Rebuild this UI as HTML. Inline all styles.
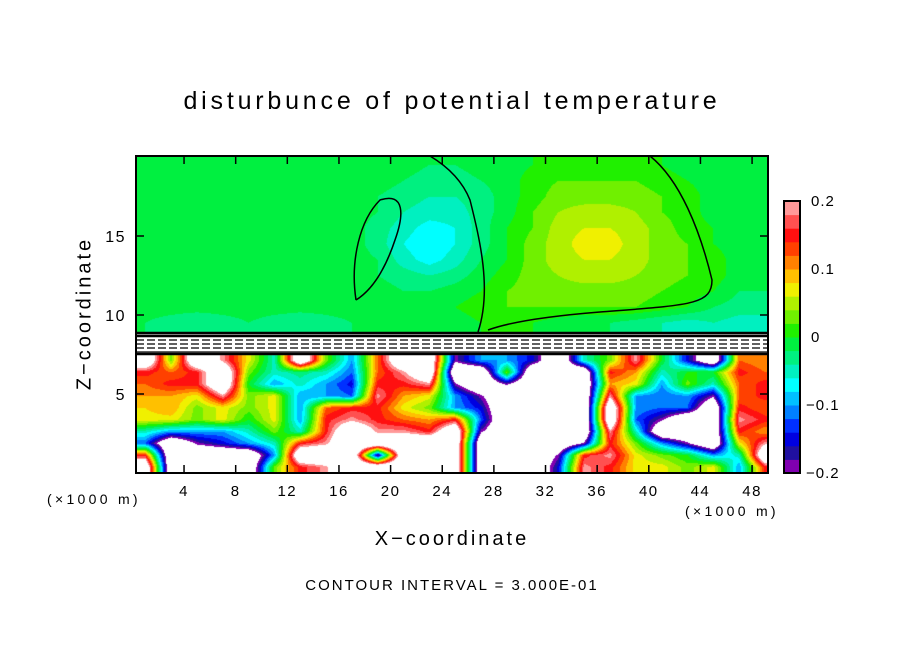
<!DOCTYPE html>
<html><head><meta charset="utf-8">
<style>
body{margin:0;background:#fff;width:904px;height:654px;overflow:hidden;position:relative;font-family:"Liberation Sans",sans-serif;}
.t{position:absolute;color:#000;white-space:nowrap;}
</style></head>
<body>
<div class="t" style="left:0;width:904px;text-align:center;top:87px;font-size:25px;letter-spacing:3.8px;">disturbunce of potential temperature</div>
<canvas id="cv" width="904" height="654" style="position:absolute;left:0;top:0"></canvas>
<svg id="ov" width="904" height="654" style="position:absolute;left:0;top:0"></svg>
<div class="t" style="left:47px;top:491px;font-size:14px;letter-spacing:3.3px;">(×1000 m)</div>
<div class="t" style="left:685px;top:503px;font-size:14px;letter-spacing:3.3px;">(×1000 m)</div>
<div class="t" style="left:0;width:904px;text-align:center;top:528px;font-size:20px;letter-spacing:3px;">X−coordinate</div>
<div class="t" style="left:-15px;top:302px;width:200px;text-align:center;font-size:20px;letter-spacing:3px;transform:rotate(-90deg);">Z−coordinate</div>
<div class="t" style="left:0;width:904px;text-align:center;top:577px;font-size:15px;letter-spacing:2px;">CONTOUR INTERVAL = 3.000E-01</div>
<script>
const colors=["#8000b0","#2010a0","#0000e0","#0030ff","#0080ff","#00c0ff","#00ffff","#00f0c0","#00f080","#00f040","#20f000","#70f000","#b0f000","#f0f000","#ffc000","#ff8000","#ff4000","#ff1010","#ff5050","#ff9999"];
const xTicks=[4,8,12,16,20,24,28,32,36,40,44,48];
const zTicks=[5,10,15];
const cbTicks=[0.2,0.1,0,-0.1,-0.2];
// lower field, rows from z=7.5 down to 0 (0.75 km each), cols 2 km wide
const lowGrid=[
[0.3,0.03,0.3,0.19,0.07,-0.05,0.3,0.03,-0.1,0.12,0.3,0.3,-0.19,-0.1,-0.1,-0.15,-0.3,-0.05,0.03,0.19,0.0,-0.15,-0.3,0.12,0.1],
[0.15,0.12,0.15,0.3,0.03,-0.05,-0.03,-0.05,-0.12,0.12,0.19,0.3,-0.3,-0.3,0.03,-0.3,-0.3,-0.3,0.15,0.1,-0.05,0.0,0.0,0.15,0.12],
[0.12,0.15,0.15,0.3,0.0,-0.1,-0.05,-0.1,-0.15,0.15,0.15,0.19,-0.19,-0.3,-0.19,-0.3,-0.3,-0.3,0.1,0.07,-0.1,0.03,-0.05,0.12,0.15],
[0.1,0.1,0.07,0.19,0.03,0.07,-0.1,-0.1,-0.12,0.19,0.1,0.07,-0.1,-0.19,-0.3,-0.3,-0.3,-0.3,0.19,-0.1,-0.12,-0.1,-0.19,0.12,0.15],
[0.08,0.1,0.03,0.07,0.03,0.07,-0.1,0.12,0.15,0.15,0.07,0.03,-0.1,-0.15,-0.3,-0.3,-0.3,-0.3,0.3,-0.1,-0.12,-0.12,-0.3,0.15,0.12],
[0.07,0.07,0.03,0.07,0.0,0.07,-0.1,0.15,0.19,0.15,0.12,0.1,0.15,-0.12,-0.3,-0.3,-0.3,-0.3,0.3,-0.12,-0.19,-0.3,-0.3,0.19,0.15],
[-0.05,-0.1,-0.1,-0.1,-0.05,0.03,-0.05,0.15,0.3,0.19,0.19,0.15,0.3,-0.19,-0.3,-0.3,-0.3,-0.3,0.19,-0.05,-0.3,-0.3,-0.3,0.15,0.1],
[-0.12,-0.3,-0.19,-0.15,-0.1,-0.05,0.15,0.19,0.3,0.3,0.3,0.3,0.3,-0.3,-0.3,-0.3,-0.3,-0.19,0.15,0.03,-0.1,-0.19,-0.3,0.07,0.19],
[0.15,-0.3,-0.3,-0.3,-0.3,-0.1,0.3,0.3,0.3,-0.19,0.3,0.3,0.3,-0.3,-0.3,-0.3,-0.19,0.15,0.19,0.07,0.03,0.0,-0.1,-0.05,0.3],
[0.3,-0.3,-0.3,-0.3,-0.3,0.03,0.15,0.19,0.3,0.3,0.3,0.3,0.3,-0.3,-0.3,-0.3,-0.15,0.19,0.15,0.07,0.07,0.03,0.07,-0.1,0.15]
];
// upper field, rows from z=19.5 down to 9.5
const upGrid=[
[-.01,-.01,-.01,-.01,-.01,-.01,-.01,-.01,-.01,-.01,-.01,-.02,-.02,-.01,-.01,0,.01,.01,.01,.01,0,-.01,-.01,-.01,-.01],
[-.01,-.01,-.01,-.01,-.01,-.01,-.01,-.01,-.01,-.01,-.02,-.03,-.03,-.02,-.01,.01,.02,.02,.02,.02,.01,0,-.01,-.01,-.01],
[-.01,-.01,-.01,-.01,-.01,-.01,-.01,-.01,-.01,-.02,-.03,-.04,-.04,-.03,-.01,.01,.03,.03,.03,.03,.02,.01,-.01,-.01,-.01],
[-.01,-.01,-.01,-.01,-.01,-.01,-.01,-.01,-.01,-.02,-.04,-.05,-.05,-.03,-.01,.02,.04,.05,.05,.04,.02,.01,-.01,-.01,-.01],
[-.01,-.01,-.01,-.01,-.01,-.01,-.01,-.01,-.01,-.03,-.05,-.07,-.06,-.03,0,.02,.05,.06,.06,.05,.03,.01,0,-.01,-.01],
[-.01,-.01,-.01,-.01,-.01,-.01,-.01,-.01,-.01,-.03,-.06,-.08,-.06,-.03,0,.03,.05,.07,.07,.05,.03,.02,0,-.01,-.01],
[-.01,-.01,-.01,-.01,-.01,-.01,-.01,-.01,-.01,-.02,-.05,-.07,-.05,-.02,0,.03,.05,.06,.06,.05,.03,.02,.01,-.01,-.01],
[-.01,-.01,-.01,-.01,-.01,-.01,-.01,-.01,-.01,-.02,-.03,-.04,-.03,-.01,.01,.03,.04,.05,.05,.04,.03,.02,.01,-.01,-.01],
[-.01,-.01,-.01,-.01,-.01,-.01,-.01,-.01,-.01,-.01,-.02,-.02,-.01,0,.02,.03,.03,.03,.03,.03,.02,.01,0,-.02,-.02],
[-.01,-.01,-.01,-.01,-.01,-.01,-.01,-.01,-.01,-.01,-.02,-.01,0,.01,.02,.02,.02,.02,.02,.02,.01,0,-.02,-.03,-.03],
[-.02,-.03,-.04,-.03,-.02,-.03,-.04,-.03,-.02,-.02,-.02,-.02,-.01,0,.01,0,-.01,-.02,-.02,-.03,-.04,-.05,-.04,-.05,-.05]
];
const PL=136,PR=768,PT=156,PB=473;
const xPx=x=>132.4+12.91*x;
const pxX=p=>(p-132.4)/12.91;
const zPx=z=>473-15.8*z;
const pxZ=p=>(473-p)/15.8;
function interp(g,cx,cy){
  const R=g.length,C=g[0].length;
  cx=Math.max(0,Math.min(C-1,cx));cy=Math.max(0,Math.min(R-1,cy));
  const i=Math.min(C-2,Math.floor(cx)),j=Math.min(R-2,Math.floor(cy));
  const fx=cx-i,fy=cy-j;
  return g[j][i]*(1-fx)*(1-fy)+g[j][i+1]*fx*(1-fy)+g[j+1][i]*(1-fx)*fy+g[j+1][i+1]*fx*fy;
}
const cv=document.getElementById('cv');const ctx=cv.getContext('2d');
const img=ctx.createImageData(PR-PL,PB-PT);
function hex(h){return[parseInt(h.substr(1,2),16),parseInt(h.substr(3,2),16),parseInt(h.substr(5,2),16)];}
const rgb=colors.map(hex);
for(let py=PT;py<PB;py++){for(let px=PL;px<PR;px++){
  const x=pxX(px+0.5),z=pxZ(py+0.5);let v=null;
  if(z<7.5){v=interp(lowGrid,(x-1)/2,(7.5-z)/0.75-0.5);}
  else if(z>=8.85){v=interp(upGrid,(x-1)/2,19.5-z);}
  else v=0.5;
  let c=[255,255,255];
  if(v<=0.2&&v>=-0.2){let k=Math.max(0,Math.min(19,Math.floor((v+0.2)/0.02)));c=rgb[k];}
  const o=((py-PT)*(PR-PL)+(px-PL))*4;img.data[o]=c[0];img.data[o+1]=c[1];img.data[o+2]=c[2];img.data[o+3]=255;
}}
ctx.putImageData(img,PL,PT);
const NS='http://www.w3.org/2000/svg';const ov=document.getElementById('ov');
function mk(t,a){const e=document.createElementNS(NS,t);for(const k in a)e.setAttribute(k,a[k]);ov.appendChild(e);return e;}
[333,336,340,344,348,352,354].forEach(y=>{const l=mk('line',{x1:PL,x2:PR,y1:y,y2:y,stroke:'#000','stroke-width':(y==333||y==354||y==336)?2.5:1.2,'stroke-dasharray':(y>338&&y<350)?'8 3':'none'});

});
const paths=["M478,332 C492,290 480,240 470,200 C460,175 440,162 430,156","M650,156 C680,180 700,230 712,280 C712,305 690,305 600,312 C550,316 510,322 488,330","M356,300 C350,260 360,220 380,200 C405,192 404,215 395,240 C385,270 372,290 356,300"];
paths.forEach(d=>{const p=mk('path',{d:d,fill:'none',stroke:'#000','stroke-width':1.5});

});
const fr=mk('rect',{x:PL,y:PT,width:PR-PL,height:PB-PT,fill:'none',stroke:'#000','stroke-width':2});


xTicks.forEach(v=>{const x=xPx(v);
mk('line',{x1:x,x2:x,y1:PB,y2:PB-8,stroke:'#000','stroke-width':1.5});mk('line',{x1:x,x2:x,y1:PT,y2:PT+8,stroke:'#000','stroke-width':1.5});
const t=mk('text',{x:x,y:496,'text-anchor':'middle','font-size':15,'letter-spacing':1.5,'font-family':'Liberation Sans'});t.textContent=v;

});
zTicks.forEach(v=>{const y=zPx(v);
mk('line',{x1:PL,x2:PL+8,y1:y,y2:y,stroke:'#000','stroke-width':1.5});mk('line',{x1:PR,x2:PR-8,y1:y,y2:y,stroke:'#000','stroke-width':1.5});
const t=mk('text',{x:126,y:y+6,'text-anchor':'end','font-size':16,'letter-spacing':1.5,'font-family':'Liberation Sans'});t.textContent=v;

});
const CT=201,CB=473,CX=784,CW=16;const h=(CB-CT)/colors.length;
colors.forEach((c,i)=>{const r=mk('rect',{x:CX,y:CB-(i+1)*h,width:CW,height:h+0.5,fill:c});

});
const cf=mk('rect',{x:CX,y:CT,width:CW,height:CB-CT,fill:'none',stroke:'#000','stroke-width':2});


cbTicks.forEach(v=>{const y=CB-(v+0.2)/0.4*(CB-CT);
const t=mk('text',{x:v<0?806:811,y:y+5,'font-size':15,'letter-spacing':1,'font-family':'Liberation Sans'});t.textContent=v<0?'−'+Math.abs(v):String(v);

});
</script>
</body></html>
